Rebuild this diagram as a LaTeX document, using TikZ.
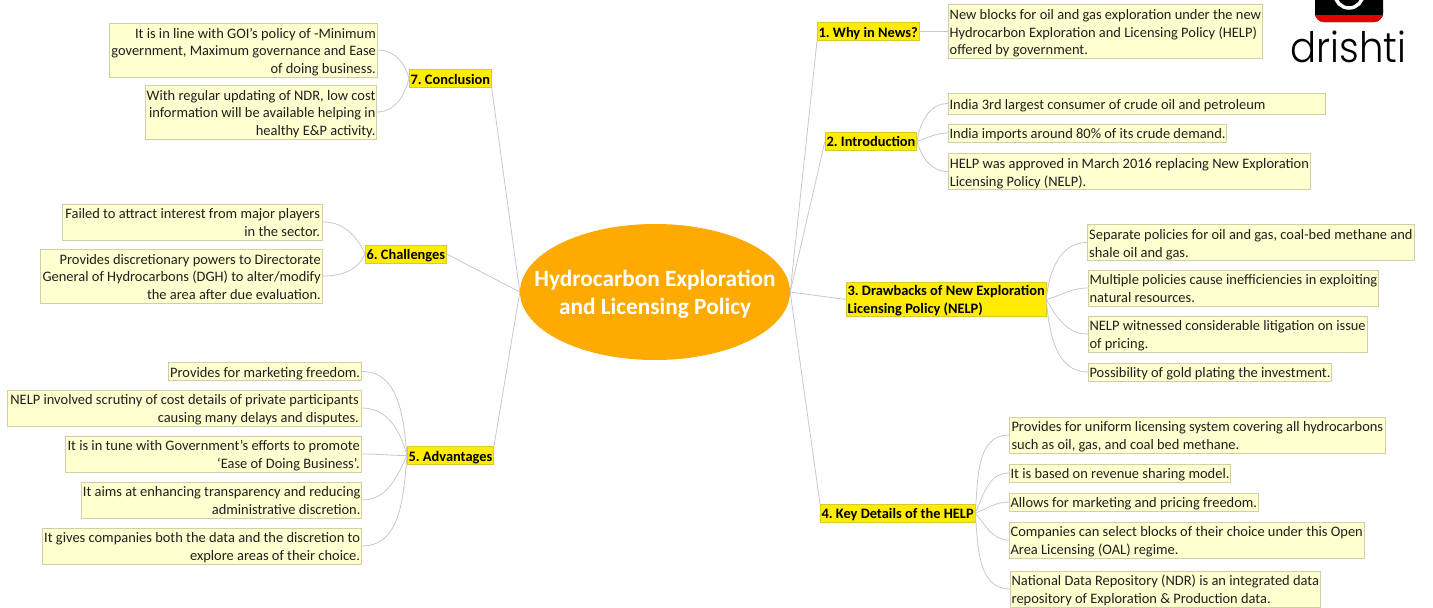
\documentclass[tikz,border=0pt]{standalone}
\usepackage{fontspec}
\usetikzlibrary{shapes.geometric}
\setmainfont{Carlito}
\newfontfamily\logofont{Poppins Light}
\frenchspacing
\definecolor{hubcolor}{HTML}{FFAA00}
\definecolor{headcolor}{HTML}{FFEC00}
\definecolor{leafcolor}{HTML}{FFFFCF}
\definecolor{leafborder}{HTML}{CFCFA8}
\definecolor{linkcolor}{HTML}{C8C8C8}
\newcommand{\linestrut}{\rule[-3pt]{0pt}{17pt}}
\newcommand{\topline}{\rule{0pt}{14.5pt}}
\tikzset{
  headbox/.style={draw=headcolor!70!gray,fill=headcolor,line width=0.7pt,anchor=west,inner xsep=1.2pt,inner ysep=0.4pt,
    font=\fontsize{14.4}{17.6}\selectfont\bfseries,text=black,align=left,
    execute at begin node=\linestrut,execute at end node=\linestrut},
  leafbox/.style={draw=leafborder,fill=leafcolor,line width=0.7pt,inner xsep=1.2pt,inner ysep=0.5pt,
    font=\fontsize{14.45}{17.6}\selectfont,text=black!88,minimum width=#1,
    execute at begin node=\linestrut,execute at end node=\linestrut},
  rightleaf/.style={leafbox=#1,anchor=west,align=left},
  leftleaf/.style={leafbox=#1,anchor=east,align=right},
  link/.style={draw=linkcolor,line width=0.8pt}
}
\begin{document}
\begin{tikzpicture}[x=1pt,y=-1pt]
  \useasboundingbox (0,0) rectangle (1433,608);

  % Logo
  \begin{scope}
    \clip (1285,0) rectangle (1410,30);
    \fill[black,rounded corners=9pt] (1315,-30) rectangle (1383,22);
    \fill[red!90!black,rounded corners=9pt] (1315,0) rectangle (1383,22);
    \fill[black] (1315,-5) rectangle (1383,15);
    \draw[white,line width=3.5pt] (1349,-6) circle (14);
  \end{scope}
  \node[inner sep=0pt,anchor=base] (logotext) at (1348.5,62) {\scalebox{0.92}[1]{\logofont\fontsize{42}{42}\selectfont drishti}};

  % Centre
  \node[ellipse,fill=hubcolor,minimum width=270pt,minimum height=136pt,inner xsep=-40pt,inner ysep=0pt,align=center,text=white,
    font=\fontsize{23.3}{28}\selectfont\bfseries] (hub) at (655,292) {\rule{0pt}{20.5pt}Hydrocarbon Exploration\\and Licensing Policy};

  % Right heads
  \node[headbox] (news) at (817,31.5) {1. Why in News?};
  \node[headbox] (intro) at (825,141) {2. Introduction};
  \node[headbox] (drawbacks) at (846,299.5) {\rule{0pt}{13pt}3. Drawbacks of New Exploration\\Licensing Policy (NELP)};
  \node[headbox] (details) at (820,513) {4. Key Details of the HELP};

  % Left heads
  \node[headbox] (advantages) at (407,455.5) {5. Advantages};
  \node[headbox] (challenges) at (365,254) {6. Challenges};
  \node[headbox] (conclusion) at (409,78.5) {7. Conclusion};

  % Leaves of 1 and 2
  \node[rightleaf=314pt] (newsa) at (948,31.5) {\topline New blocks for oil and gas exploration under the new\\Hydrocarbon Exploration and Licensing Policy (HELP)\\offered by government.};
  \node[rightleaf=0pt,text width=374.6pt,align=flush left,minimum height=21pt] (introa) at (948,103.5) {India 3rd largest consumer of crude oil and petroleum};
  \node[rightleaf=278pt] (introb) at (948,133) {India imports around 80\% of its crude demand.};
  \node[rightleaf=362pt] (introc) at (948,171.5) {\topline HELP was approved in March 2016 replacing New Exploration\\Licensing Policy (NELP).};

  % Leaves of 3
  \node[rightleaf=327pt] (drawa) at (1087,242.5) {\topline Separate policies for oil and gas, coal-bed methane and\\shale oil and gas.};
  \node[rightleaf=289pt] (drawb) at (1088,288) {\topline Multiple policies cause inefficiencies in exploiting\\natural resources.};
  \node[rightleaf=278pt] (drawc) at (1088,334) {\topline NELP witnessed considerable litigation on issue\\of pricing.};
  \node[rightleaf=243pt] (drawd) at (1088,372) {Possibility of gold plating the investment.};

  % Leaves of 4
  \node[rightleaf=376pt] (deta) at (1009,435) {\topline Provides for uniform licensing system covering all hydrocarbons\\such as oil, gas, and coal bed methane.};
  \node[rightleaf=220pt] (detb) at (1009,473) {It is based on revenue sharing model.};
  \node[rightleaf=249pt] (detc) at (1009,502) {Allows for marketing and pricing freedom.};
  \node[rightleaf=354pt] (detd) at (1009,540) {\topline Companies can select blocks of their choice under this Open\\Area Licensing (OAL) regime.};
  \node[rightleaf=310pt] (dete) at (1010,589) {\topline National Data Repository (NDR) is an integrated data\\repository of Exploration \& Production data.};

  % Leaves of 5
  \node[leftleaf=193pt] (adva) at (362,371.5) {Provides for marketing freedom.};
  \node[leftleaf=354pt] (advb) at (362,408) {\topline NELP involved scrutiny of cost details of private participants\\causing many delays and disputes.};
  \node[leftleaf=296pt] (advc) at (362,454) {\topline It is in tune with Government’s efforts to promote\\‘Ease of Doing Business’.};
  \node[leftleaf=280pt] (advd) at (362,500) {\topline It aims at enhancing transparency and reducing\\administrative discretion.};
  \node[leftleaf=319pt] (adve) at (362,546) {\topline It gives companies both the data and the discretion to\\explore areas of their choice.};

  % Leaves of 6
  \node[leftleaf=260pt] (chala) at (323,222) {\topline Failed to attract interest from major players\\in the sector.};
  \node[leftleaf=282pt] (chalb) at (323,276) {\topline Provides discretionary powers to Directorate\\General of Hydrocarbons (DGH) to alter/modify\\the area after due evaluation.};

  % Leaves of 7
  \node[leftleaf=268pt] (conca) at (378,50) {\topline It is in line with GOI's policy of -Minimum\\government, Maximum governance and Ease\\of doing business.};
  \node[leftleaf=231pt] (concb) at (377,112) {\topline With regular updating of NDR, low cost\\information will be available helping in\\healthy E\&P activity.};

  % Lines from the centre
  \foreach \target/\side in {news/south west,intro/west,drawbacks/west,details/north west}
    \draw[link] (hub.east) -- (\target.\side);
  \foreach \target/\side in {advantages/north east,challenges/east,conclusion/south east}
    \draw[link] (hub.west) -- (\target.\side);

  % Curves on the right
  \draw[link] (news.east) -- (newsa.west);
  \foreach \head/\kid/\ang in {intro/introa/80,intro/introb/15,intro/introc/-75,
    drawbacks/drawa/85,drawbacks/drawb/15,drawbacks/drawc/-60,drawbacks/drawd/-85,
    details/deta/85,details/detb/65,details/detc/20,details/detd/-50,details/dete/-85}
    \draw[link] (\head.east) to[out=\ang,in=180] (\kid.west);

  % Curves on the left
  \foreach \head/\kid/\ang in {advantages/adva/95,advantages/advb/105,advantages/advc/180,advantages/advd/-115,advantages/adve/-95,
    challenges/chala/115,challenges/chalb/-115,conclusion/conca/105,conclusion/concb/-105}
    \draw[link] (\head.west) to[out=\ang,in=0] (\kid.east);
\end{tikzpicture}
\end{document}
